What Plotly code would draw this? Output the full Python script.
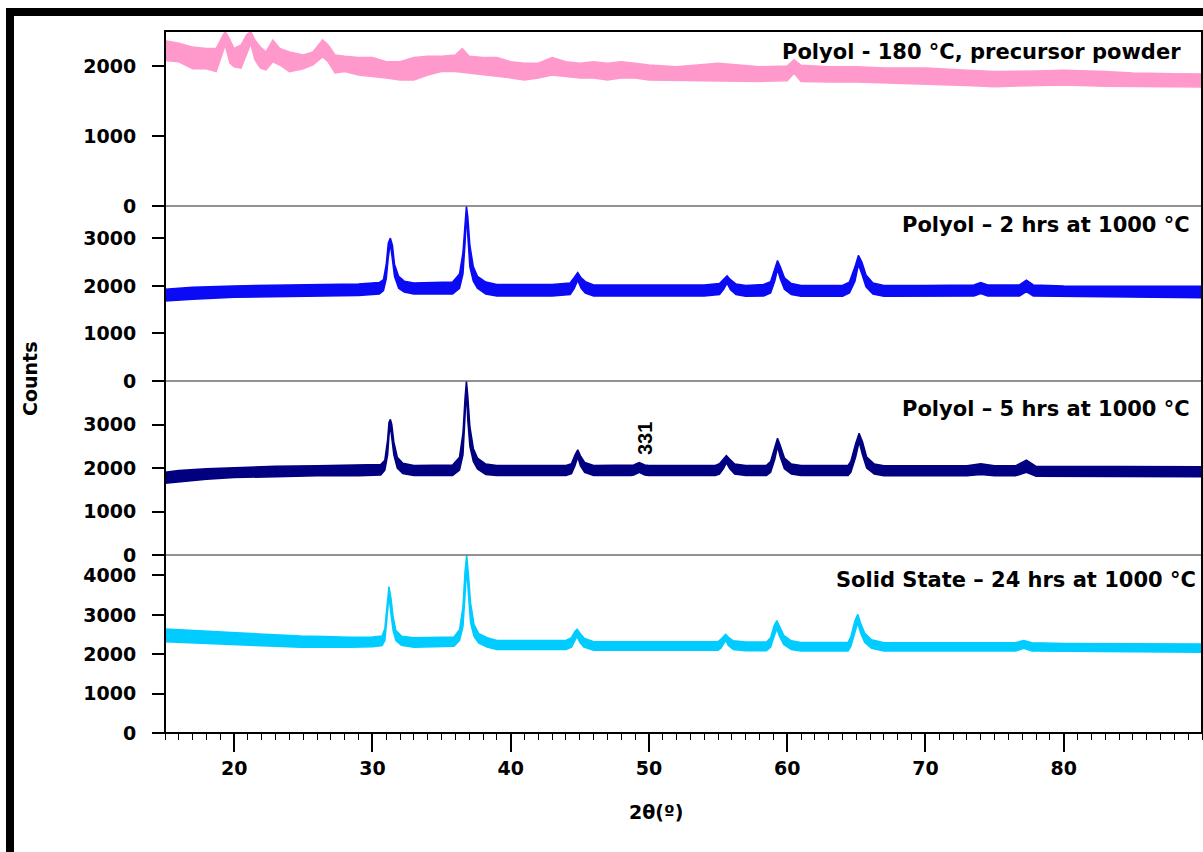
import plotly.graph_objects as go
from plotly.subplots import make_subplots

# XRD patterns: each trace is drawn as the band between its low and high count envelope

# Polyol - 180 °C, precursor powder
tt_pre = [15, 16, 17, 18, 18.7, 19.0, 19.35, 19.7, 20.0, 20.5, 20.9, 21.2, 21.5, 21.9, 22.3,
          22.8, 23.3, 24, 25, 25.7, 26.4, 26.8, 27.3, 28, 29, 30, 31, 32, 33, 34, 35, 36,
          36.5, 37, 38, 39, 40, 41, 42, 43, 44, 45, 46, 47, 48, 49, 50, 52, 55, 58, 60,
          60.5, 61, 63, 65, 67, 70, 73, 75, 78, 80, 83, 85, 88, 90]
lo_pre = [2080, 2060, 1960, 1960, 1920, 2110, 2300, 2040, 1990, 1970, 2180, 2320, 2090, 1970, 1943,
          2060, 2015, 1920, 1960, 2015, 2130, 2060, 1900, 1920, 1872, 1850, 1830, 1800, 1800, 1872, 1920, 1920,
          1900, 1900, 1872, 1850, 1830, 1800, 1830, 1872, 1850, 1830, 1830, 1800, 1830, 1830, 1800, 1800, 1790, 1780, 1790,
          1900, 1780, 1770, 1770, 1750, 1740, 1720, 1705, 1720, 1730, 1710, 1710, 1700, 1700]
hi_pre = [2360, 2325, 2270, 2250, 2250, 2370, 2495, 2370, 2250, 2300, 2444, 2495, 2372, 2270, 2200,
          2372, 2250, 2200, 2158, 2200, 2372, 2300, 2158, 2140, 2120, 2120, 2060, 2060, 2120, 2140, 2140, 2158,
          2250, 2140, 2120, 2120, 2060, 2040, 2040, 2120, 2060, 2040, 2060, 2040, 2060, 2040, 2015, 1990, 2040, 1990, 2000,
          2090, 2010, 1990, 1990, 1970, 1970, 1940, 1920, 1930, 1940, 1920, 1900, 1890, 1886]

# Polyol - 2 hrs at 1000 °C
tt_2h = [15, 17, 20, 23, 26, 29, 30.5, 30.8, 31.0, 31.15, 31.3, 31.45, 31.6, 31.9, 32.3, 33,
         35.8, 36.3, 36.55, 36.7, 36.8, 36.9, 37.05, 37.3, 37.6, 38.2, 39, 43,
         44.3, 44.6, 44.85, 45.1, 45.4, 46, 50, 54, 55.1, 55.4, 55.65, 55.9, 56.3, 57, 58.3,
         58.8, 59.1, 59.3, 59.5, 59.8, 60.3, 61, 64, 64.5, 64.9, 65.15, 65.4, 65.7, 66.2, 67,
         70, 73.5, 74, 74.5, 76.8, 77.3, 77.8, 80, 85, 90]
lo_2h = [1680, 1720, 1760, 1780, 1790, 1800, 1830, 1900, 2150, 2600, 2900, 2550, 2200, 1950, 1870, 1830,
         1830, 1950, 2250, 2900, 3500, 2950, 2400, 2100, 1950, 1830, 1790, 1790,
         1820, 1950, 2120, 1950, 1850, 1790, 1790, 1790, 1820, 1930, 2060, 1920, 1820, 1780, 1790,
         1850, 2100, 2350, 2150, 1930, 1820, 1780, 1780, 1850, 2100, 2450, 2250, 1980, 1830, 1780,
         1780, 1790, 1840, 1790, 1790, 1880, 1790, 1770, 1760, 1750]
hi_2h = [1930, 1970, 2000, 2010, 2030, 2040, 2070, 2130, 2450, 2900, 3005, 2850, 2450, 2200, 2100, 2060,
         2080, 2250, 2700, 3400, 3680, 3450, 2850, 2400, 2200, 2080, 2030, 2030,
         2060, 2180, 2280, 2170, 2090, 2020, 2020, 2020, 2050, 2150, 2210, 2130, 2040, 2010, 2030,
         2090, 2380, 2535, 2400, 2170, 2050, 2010, 2010, 2080, 2400, 2642, 2500, 2230, 2060, 2010,
         2010, 2020, 2070, 2020, 2020, 2120, 2020, 2000, 1995, 1990]

# Polyol - 5 hrs at 1000 °C
tt_5h = [15, 16, 18, 20, 23, 26, 29, 30.6, 30.9, 31.1, 31.2, 31.3, 31.4, 31.55, 31.8, 32.2, 33,
         35.8, 36.3, 36.55, 36.7, 36.8, 36.9, 37.05, 37.3, 37.6, 38.2, 39, 44,
         44.4, 44.65, 44.85, 45.05, 45.35, 46, 48.7, 48.9, 49.3, 49.7, 50, 54.8,
         55.1, 55.4, 55.6, 55.85, 56.2, 57, 58.5, 58.8, 59.1, 59.3, 59.5, 59.8, 60.3, 61, 64.4,
         64.6, 64.95, 65.2, 65.45, 65.75, 66.3, 67, 73, 74, 75, 76.5, 77.3, 78, 84, 90]
lo_5h = [1650, 1690, 1740, 1780, 1800, 1820, 1820, 1840, 1950, 2300, 2750, 2980, 2700, 2300, 2000, 1870, 1830,
         1830, 1950, 2300, 3100, 3800, 3100, 2500, 2150, 1980, 1850, 1830, 1830,
         1870, 2050, 2250, 2050, 1900, 1830, 1830, 1840, 1900, 1840, 1830, 1830,
         1860, 1990, 2120, 1980, 1860, 1830, 1830, 1900, 2200, 2500, 2250, 1980, 1860, 1830, 1830,
         1900, 2250, 2600, 2300, 2000, 1860, 1820, 1820, 1850, 1820, 1820, 1900, 1810, 1805, 1800]
hi_5h = [1900, 1940, 1980, 2010, 2040, 2050, 2060, 2080, 2180, 2650, 3050, 3117, 3000, 2600, 2250, 2110, 2060,
         2070, 2250, 2800, 3600, 4000, 3650, 2950, 2450, 2230, 2090, 2060, 2060,
         2100, 2300, 2420, 2280, 2130, 2060, 2060, 2070, 2126, 2070, 2060, 2060,
         2100, 2220, 2285, 2200, 2090, 2060, 2060, 2150, 2500, 2683, 2520, 2230, 2090, 2060, 2060,
         2150, 2560, 2800, 2600, 2250, 2090, 2050, 2050, 2100, 2050, 2050, 2180, 2040, 2035, 2030]

# Solid State - 24 hrs at 1000 °C
tt_ss = [15, 16, 17.5, 19, 21.2, 23, 24.8, 26.5, 28.4, 30, 30.7, 30.9, 31.05, 31.2, 31.35, 31.5, 31.7, 32.1, 33,
         35.9, 36.3, 36.55, 36.7, 36.82, 36.95, 37.1, 37.35, 37.7, 38.3, 39, 44,
         44.4, 44.65, 44.8, 45.0, 45.3, 46, 55, 55.2, 55.45, 55.55, 55.75, 56.1, 57, 58.5,
         58.8, 59.05, 59.25, 59.45, 59.75, 60.3, 61, 64.4, 64.6, 64.9, 65.1, 65.3, 65.6, 66.1, 67,
         76.5, 77.1, 77.7, 80, 85, 90]
lo_ss = [2320, 2310, 2290, 2260, 2230, 2200, 2180, 2180, 2180, 2190, 2220, 2350, 2900, 3500, 3000, 2600, 2350, 2230, 2180,
         2200, 2350, 2700, 3500, 4200, 3500, 2800, 2450, 2280, 2180, 2120, 2120,
         2180, 2350, 2450, 2300, 2180, 2100, 2100, 2150, 2300, 2350, 2220, 2120, 2090, 2090,
         2180, 2450, 2650, 2450, 2250, 2120, 2080, 2080, 2200, 2550, 2800, 2550, 2300, 2150, 2080,
         2080, 2150, 2080, 2060, 2055, 2050]
hi_ss = [2640, 2620, 2600, 2560, 2520, 2480, 2460, 2450, 2430, 2440, 2460, 2650, 3300, 3719, 3400, 2950, 2600, 2460, 2420,
         2440, 2620, 3200, 4100, 4520, 4000, 3300, 2750, 2520, 2420, 2350, 2350,
         2420, 2580, 2638, 2540, 2410, 2320, 2320, 2380, 2480, 2505, 2430, 2340, 2310, 2310,
         2420, 2720, 2857, 2700, 2480, 2340, 2300, 2300, 2440, 2850, 3015, 2800, 2540, 2370, 2290,
         2290, 2350, 2290, 2270, 2265, 2260]

panel_labels = ["Polyol - 180 °C, precursor powder",
                "Polyol – 2 hrs at 1000 °C",
                "Polyol – 5 hrs at 1000 °C",
                "Solid State – 24 hrs at 1000 °C"]
panel_colors = ["#FF99CC", "#0A0AF5", "#000080", "#00CCFF"]
panel_ranges = [[0, 2500], [0, 3680], [0, 4000], [0, 4520]]
panel_ticks = [[0, 1000, 2000], [0, 1000, 2000, 3000], [0, 1000, 2000, 3000], [0, 1000, 2000, 3000, 4000]]
x_ticks = [20, 30, 40, 50, 60, 70, 80]

series = [(tt_pre, lo_pre, hi_pre), (tt_2h, lo_2h, hi_2h), (tt_5h, lo_5h, hi_5h), (tt_ss, lo_ss, hi_ss)]

# page geometry in pixels
W, H = 1203, 852
L, R, T, B = 165, 1202, 31, 733
pw, ph = R - L, B - T
panel_edges = [31, 206, 381, 555, 733]


def px_x(px):
    return (px - L) / pw


def px_y(py):
    return (B - py) / ph


fig = make_subplots(rows=4, cols=1, shared_xaxes=True, vertical_spacing=0)

for i, ((tt, lo, hi), col) in enumerate(zip(series, panel_colors)):
    fig.add_trace(go.Scatter(
        x=list(tt) + list(tt)[::-1],
        y=list(hi) + list(lo)[::-1],
        mode="lines", fill="toself", fillcolor=col,
        line=dict(color=col, width=1.5),
        hoverinfo="skip", showlegend=False,
    ), row=i + 1, col=1)

tick_font = dict(family="DejaVu Sans", size=19, color="black", weight="bold")

for i in range(4):
    yname = "yaxis" if i == 0 else f"yaxis{i + 1}"
    xname = "xaxis" if i == 0 else f"xaxis{i + 1}"
    top, bot = panel_edges[i], panel_edges[i + 1]
    fig.layout[yname].update(
        domain=[px_y(bot), px_y(top)], range=panel_ranges[i],
        tickvals=panel_ticks[i], ticks="outside", ticklen=12, tickwidth=1.5,
        tickcolor="black", tickfont=tick_font, showgrid=False, zeroline=False,
        showline=False, ticklabelstandoff=12,
    )
    fig.layout[xname].update(range=[15, 90], showgrid=False, zeroline=False, showline=False)
    if i < 3:
        fig.layout[xname].update(ticks="", showticklabels=False)

fig.layout.xaxis4.update(
    tickvals=x_ticks, ticks="outside", ticklen=18, tickwidth=1.5, tickcolor="black",
    tickfont=tick_font, showticklabels=True,
    minor=dict(ticks="outside", ticklen=6, tickwidth=1, tickcolor="black", dtick=1, tick0=0),
)

shapes = []
# panel separators
for py in panel_edges[1:4]:
    shapes.append(dict(type="line", xref="paper", yref="paper", x0=0, x1=1,
                       y0=px_y(py), y1=px_y(py), line=dict(color="#6E6E6E", width=1.5)))
# plot frame
shapes.append(dict(type="rect", xref="paper", yref="paper", x0=0, x1=1, y0=0, y1=1,
                   line=dict(color="black", width=2)))
# heavy page border along top and left
shapes.append(dict(type="rect", xref="paper", yref="paper", x0=px_x(6), x1=px_x(1204),
                   y0=px_y(16), y1=px_y(8), fillcolor="black", line=dict(width=0)))
shapes.append(dict(type="rect", xref="paper", yref="paper", x0=px_x(6), x1=px_x(14),
                   y0=px_y(853), y1=px_y(8), fillcolor="black", line=dict(width=0)))

label_font = dict(family="DejaVu Sans", size=21, color="black", weight="bold")
label_pos = [(1183, 52), (1192, 225), (1192, 409), (1198, 580)]
annotations = []
for text, (ax, ay) in zip(panel_labels, label_pos):
    annotations.append(dict(text=text, xref="paper", yref="paper", x=px_x(ax), y=px_y(ay),
                            xanchor="right", yanchor="middle", showarrow=False, font=label_font))

# reflection index marker
annotations.append(dict(text="331", xref="paper", yref="paper", x=px_x(645), y=px_y(439),
                        xanchor="center", yanchor="middle", textangle=-90, showarrow=False,
                        font=dict(family="Liberation Sans", size=20, color="black", weight="bold")))
# axis titles
annotations.append(dict(text="Counts", xref="paper", yref="paper", x=px_x(30), y=px_y(379),
                        xanchor="center", yanchor="middle", textangle=-90, showarrow=False,
                        font=dict(family="DejaVu Sans", size=19, color="black", weight="bold")))
annotations.append(dict(text="2θ(º)", xref="paper", yref="paper", x=px_x(656), y=px_y(812),
                        xanchor="center", yanchor="middle", showarrow=False,
                        font=dict(family="DejaVu Sans", size=19, color="black", weight="bold")))

fig.update_layout(
    width=W, height=H,
    margin=dict(l=L, r=W - R, t=T, b=H - B),
    paper_bgcolor="white", plot_bgcolor="white",
    shapes=shapes, annotations=annotations, showlegend=False,
)

fig.write_html("out.html")
